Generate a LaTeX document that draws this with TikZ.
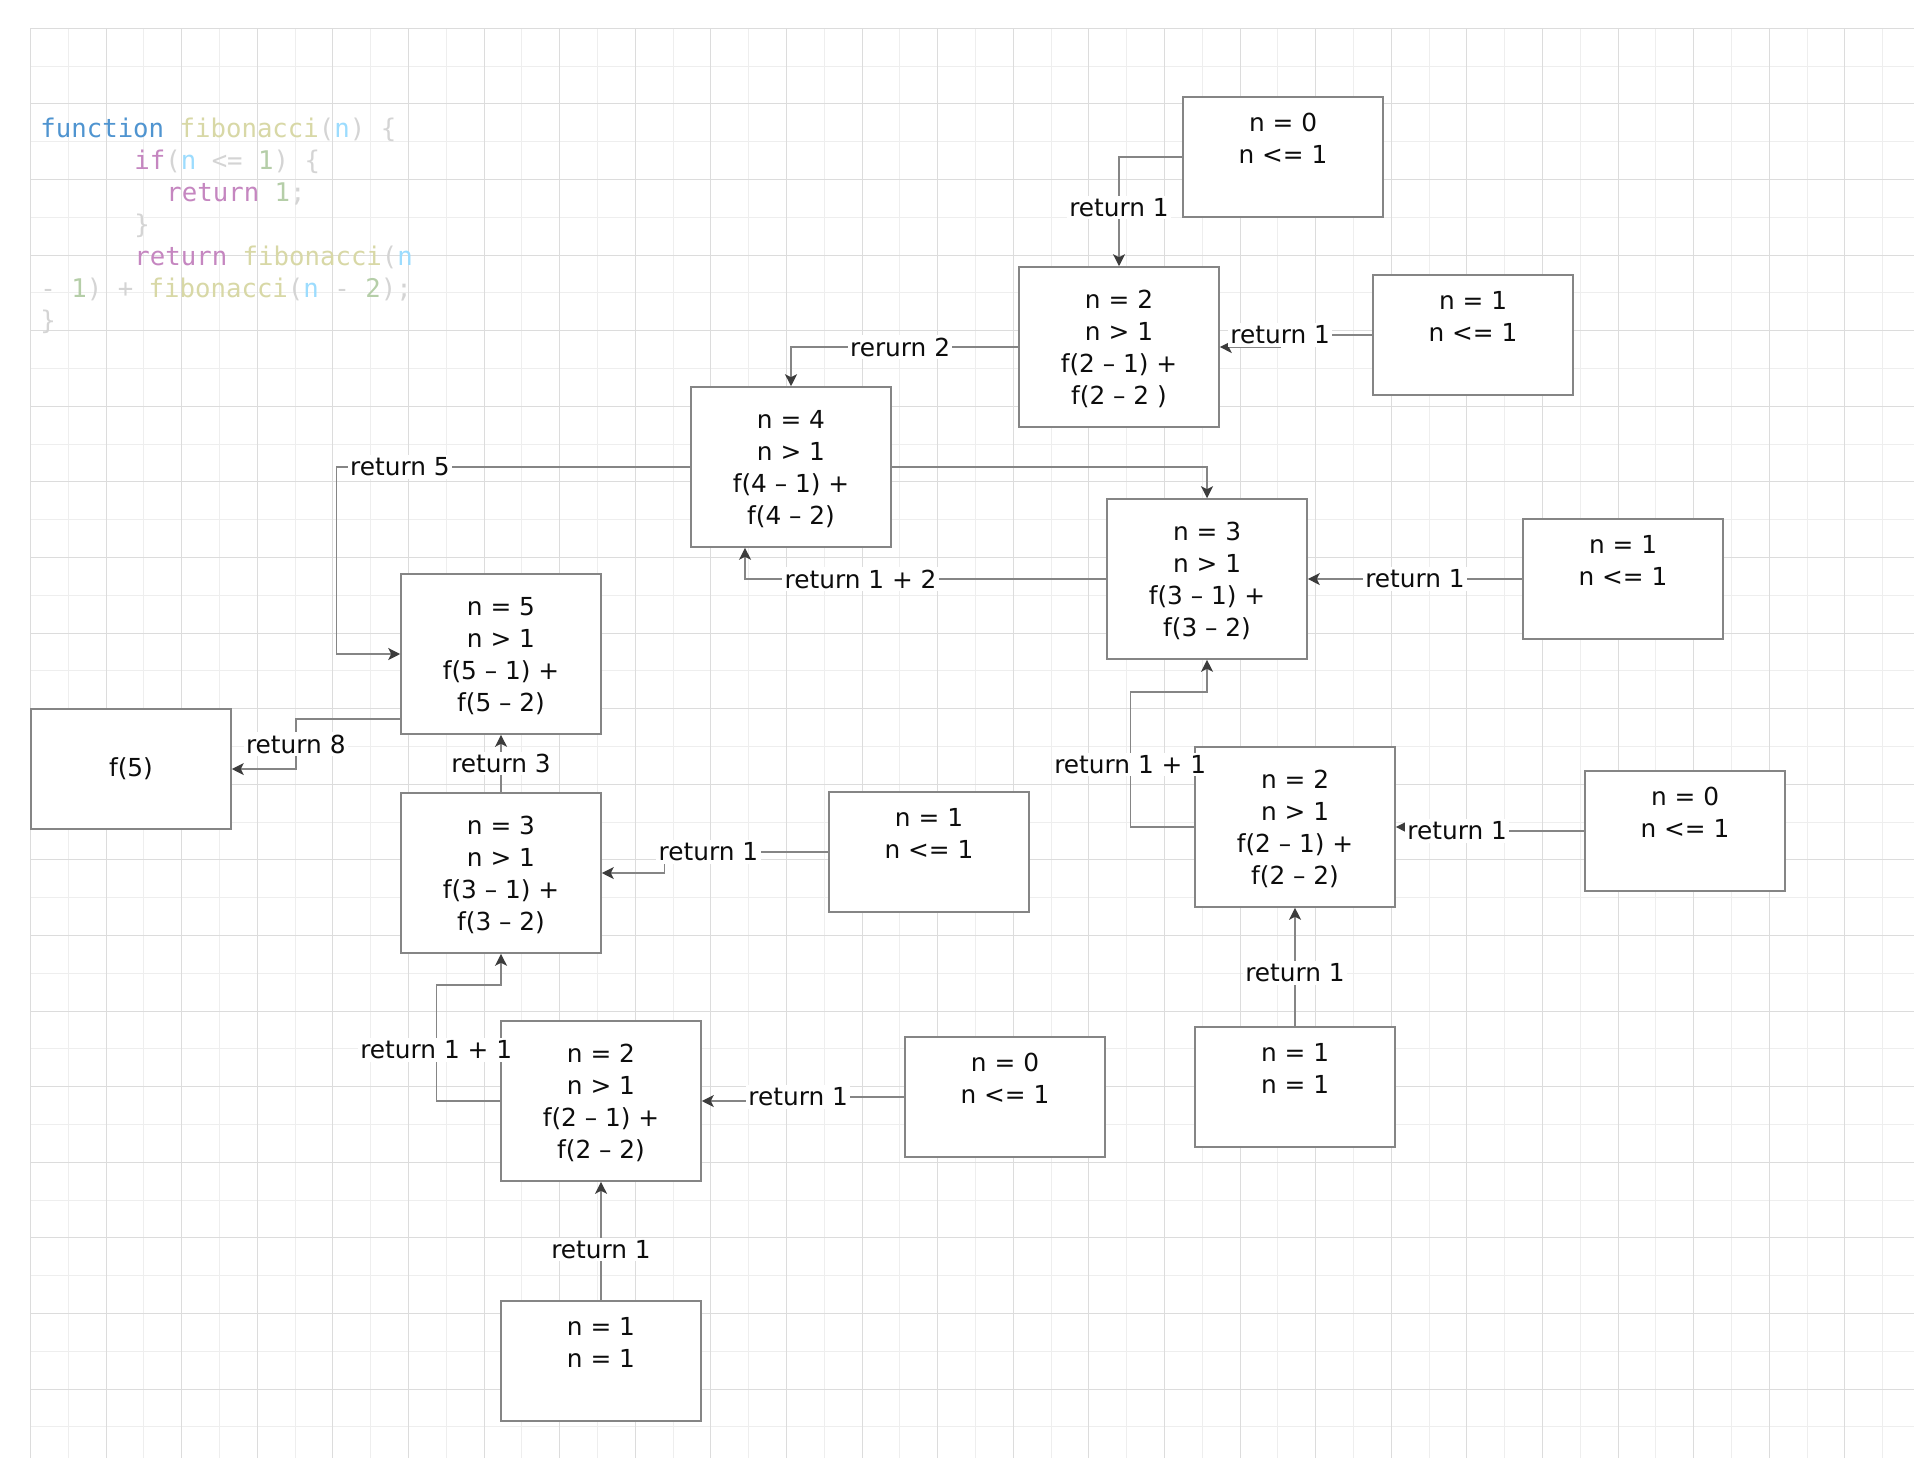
\documentclass[tikz,border=0pt]{standalone}
\usepackage{fontspec}
\setmainfont{DejaVu Sans}
\newfontfamily\codefont{DejaVu Sans Mono}
\usetikzlibrary{arrows.meta,calc}

\definecolor{gridmajor}{HTML}{DCDCDC}
\definecolor{gridminor}{HTML}{EEEEEE}
\definecolor{boxline}{HTML}{858585}
\definecolor{tipgray}{HTML}{3C3C3C}
\definecolor{kwblue}{HTML}{4F94D0}
\definecolor{fnyellow}{HTML}{D8D8A6}
\definecolor{varblue}{HTML}{9CDCFE}
\definecolor{numgreen}{HTML}{B5CEA8}
\definecolor{ctrlpink}{HTML}{C586C0}
\definecolor{punct}{HTML}{D4D4D4}

\newcommand\boxfont{\fontsize{12.4}{15.85}\selectfont}

\tikzset{
  callbox/.style={draw=boxline, line width=0.8pt, fill=white, minimum width=100pt,
    minimum height=60pt, inner sep=0pt, align=center, font=\boxfont, text=black!95},
  callboxtall/.style={callbox, minimum height=80pt},
  retarrow/.style={draw=boxline, line width=0.7pt,
    -{Stealth[length=6pt,width=6pt,inset=1.5pt,color=tipgray]}},
  retlabel/.style={fill=white, inner sep=1.2pt, font=\boxfont, text=black!95},
  codeline/.style={anchor=base west, inner sep=0pt,
    font=\codefont\fontsize{12.85}{16}\selectfont},
}

\begin{document}
\begin{tikzpicture}[x=0.5pt, y=-0.5pt]
\useasboundingbox (0,0) rectangle (1914,1458);
\fill[white] (0,0) rectangle (1914,1458);

% grid
\foreach \k in {1,3,...,49}
  \draw[gridminor, line width=0.5pt] ({30.4+37.8*\k},28.3) -- ({30.4+37.8*\k},1458);
\foreach \k in {1,3,...,37}
  \draw[gridminor, line width=0.5pt] (30.4,{28.3+37.8*\k}) -- (1914,{28.3+37.8*\k});
\foreach \k in {0,2,...,48}
  \draw[gridmajor, line width=0.5pt] ({30.4+37.8*\k},28.3) -- ({30.4+37.8*\k},1458);
\foreach \k in {0,2,...,36}
  \draw[gridmajor, line width=0.5pt] (30.4,{28.3+37.8*\k}) -- (1914,{28.3+37.8*\k});

% source code
\node[codeline] (code1) at (40,137) {\color{kwblue}function \color{fnyellow}fibonacci\color{punct}(\color{varblue}n\color{punct}) \{};
\node[codeline] (code2) at (134,169) {\color{ctrlpink}if\color{punct}(\color{varblue}n \color{punct}<= \color{numgreen}1\color{punct}) \{};
\node[codeline] (code3) at (166,201) {\color{ctrlpink}return \color{numgreen}1\color{punct};};
\node[codeline] (code4) at (134,233) {\color{punct}\}};
\node[codeline] (code5) at (134,265) {\color{ctrlpink}return \color{fnyellow}fibonacci\color{punct}(\color{varblue}n};
\node[codeline] (code6) at (40,297) {\color{punct}- \color{numgreen}1\color{punct}) + \color{fnyellow}fibonacci\color{punct}(\color{varblue}n \color{punct}- \color{numgreen}2\color{punct});};
\node[codeline] (code7) at (40,329) {\color{punct}\}};

% calls
\node[callbox] (f5) at (131,769) {f(5)};
\node[callboxtall] (n5) at (501,654) {\strut n = 5\\n > 1\\f(5 – 1) +\\f(5 – 2)};
\node[callboxtall] (n4) at (791,467) {\strut n = 4\\n > 1\\f(4 – 1) +\\f(4 – 2)};
\node[callboxtall] (n2a) at (1119,347) {\strut n = 2\\n > 1\\f(2 – 1) +\\f(2 – 2 )};
\node[callbox] (n0a) at (1283,157) {\strut n = 0\\n <= 1\\\strut};
\node[callbox] (n1a) at (1473,335) {\strut n = 1\\n <= 1\\\strut};
\node[callboxtall] (n3b) at (1207,579) {\strut n = 3\\n > 1\\f(3 – 1) +\\f(3 – 2)};
\node[callbox] (n1b) at (1623,579) {\strut n = 1\\n <= 1\\\strut};
\node[callboxtall] (n2b) at (1295,827) {\strut n = 2\\n > 1\\f(2 – 1) +\\f(2 – 2)};
\node[callbox] (n0b) at (1685,831) {\strut n = 0\\n <= 1\\\strut};
\node[callbox] (n1c) at (1295,1087) {\strut n = 1\\n = 1\\\strut};
\node[callboxtall] (n3a) at (501,873) {\strut n = 3\\n > 1\\f(3 – 1) +\\f(3 – 2)};
\node[callbox] (n1d) at (929,852) {\strut n = 1\\n <= 1\\\strut};
\node[callboxtall] (n2c) at (601,1101) {\strut n = 2\\n > 1\\f(2 – 1) +\\f(2 – 2)};
\node[callbox] (n0c) at (1005,1097) {\strut n = 0\\n <= 1\\\strut};
\node[callbox] (n1e) at (601,1361) {\strut n = 1\\n = 1\\\strut};

% returns
\draw[retarrow] (n0a.west) -| node[retlabel, pos=0.73]{return 1} (n2a.north);
\draw[retarrow] (n1a.west) -- ++(-92,0) node[retlabel]{return 1} |- (n2a.east);
\draw[retarrow] (n2a.west) -| node[retlabel, pos=0.26]{rerurn 2} (n4.north);
\draw[retarrow] (n4.east) -| (n3b.north);
\draw[retarrow] (n3b.west) -| node[retlabel, pos=0.34]{return 1 + 2} ($(n4.south)+(-46,0)$);
\draw[retarrow] (n1b.west) -- node[retlabel]{return 1} (n3b.east);
\draw[retarrow] (n2b.west) -- ++(-64,0) |- node[retlabel, pos=0.23]{return 1 + 1} ($(n3b.south)+(0,32)$) -- (n3b.south);
\draw[retarrow] (n0b.west) -- ++(-127,0) node[retlabel]{return 1} |- (n2b.east);
\draw[retarrow] (n1c.north) -- node[retlabel, pos=0.45]{return 1} (n2b.south);
\draw[retarrow] (n4.west) -- node[retlabel, pos=0.82]{return 5} ++(-354,0) |- (n5.west);
\draw[retarrow] ($(n5.west)+(0,65)$) -| node[retlabel, pos=0.75]{return 8} ($(f5.east)+(64,0)$) -- (f5.east);
\draw[retarrow] (n3a.north) -- node[retlabel]{return 3} (n5.south);
\draw[retarrow] (n1d.west) -- node[retlabel, pos=0.73]{return 1} ++(-164,0) |- (n3a.east);
\draw[retarrow] (n2c.west) -- ++(-64,0) |- node[retlabel, pos=0.22]{return 1 + 1} ($(n3a.south)+(0,31)$) -- (n3a.south);
\draw[retarrow] (n0c.west) -- ++(-106,0) node[retlabel]{return 1} |- (n2c.east);
\draw[retarrow] (n1e.north) -- node[retlabel, pos=0.43]{return 1} (n2c.south);
\end{tikzpicture}
\end{document}
